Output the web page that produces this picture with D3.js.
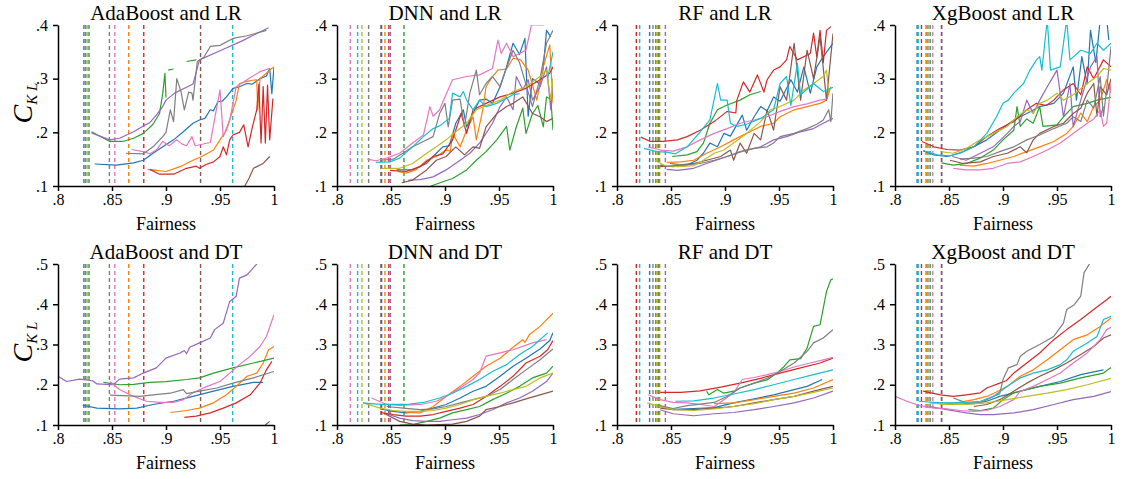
<!DOCTYPE html>
<html>
<head>
<meta charset="utf-8">
<script src="https://d3js.org/d3.v7.min.js"></script>
<style>
  body { margin: 0; background: #fff; }
  svg text { font-family: "Liberation Serif", "Times New Roman", Times, "Nimbus Roman", "DejaVu Serif", serif; }
</style>
</head>
<body>
<script>
// series order follows the colour cycle: blue, orange, green, red, purple, brown, pink, gray, olive, cyan
const xTicks = [0.8, 0.85, 0.9, 0.95, 1];
const yTicksLR = [0.1, 0.2, 0.3, 0.4];
const yTicksDT = [0.1, 0.2, 0.3, 0.4, 0.5];
const titles = ["AdaBoost and LR", "DNN and LR", "RF and LR", "XgBoost and LR",
                "AdaBoost and DT", "DNN and DT", "RF and DT", "XgBoost and DT"];

// dashed vertical markers, one per series, per model column
const adaVl = [.824, .8655, .8287, .8794, .8257, .932, .8526, .8476, .827, .9617];
const dnnVl = [.8413, .8444, .862, .848, .8494, .8407, .8123, .8293, .8231, .8191];
const rfVl  = [.8302, .8395, .8385, .8179, .8448, .836, .8375, .8333, .837, .821];
const xgbVl = [.8205, .829, .8325, .8245, .8433, .843, .835, .8305, .8285, .8215];

const adaLR = [
  [[.834,.141],[.854,.139],[.87,.143],[.879,.148],[.888,.161],[.897,.173],[.907,.186],[.916,.201],[.925,.217],[.931,.223],[.936,.226],[.941,.242],[.944,.24],[.948,.257],[.952,.258],[.956,.266],[.962,.282],[.968,.285],[.975,.291],[.98,.29],[.987,.3],[.993,.305],[.996,.319],[.998,.272],[1,.322]],
  [[.883,.131],[.891,.129],[.9,.127],[.913,.136],[.925,.148],[.934,.156],[.944,.167],[.95,.186],[.956,.204],[.962,.242],[.965,.26],[.968,.291],[.975,.295],[.98,.297],[.984,.298],[.985,.242],[.987,.3],[.993,.31],[.996,.316],[1,.322]],
  [[.831,.201],[.848,.183],[.86,.183],[.87,.189],[.879,.198],[.888,.215],[.894,.235],[.897,.273],[.899,.31],[.9,.265],null,[.902,.316],[.907,.318],null,[.919,.332],[.928,.335]],
  [[.885,.131],[.894,.122],[.907,.122],[.919,.133],[.928,.137],[.931,.133],[.937,.14],[.944,.145],[.95,.155],[.953,.173],[.956,.158],[.959,.186],[.962,.195],[.968,.2],[.972,.214],[.976,.173],[.98,.21],[.984,.242],[.986,.29],[.988,.18],[.99,.285],[.992,.18],[.994,.288],[.996,.186],[.999,.263]],
  [[.831,.199],[.848,.186],[.857,.189],[.87,.201],[.879,.212],[.885,.218],[.891,.232],[.896,.245],[.9,.26],[.908,.273],[.919,.284],[.925,.29],[.931,.335],[.95,.352],[.97,.37],[.995,.395]],
  [[.973,.1],[.977,.115],[.981,.133],[.99,.142],[.996,.155]],
  [[.868,.168],[.879,.164],[.885,.16],[.891,.167],[.897,.183],[.903,.175],[.91,.186],[.915,.178],[.919,.175],[.924,.192],[.927,.175],[.941,.181],[.95,.279],[.953,.192],[.959,.223],[.965,.285],[.975,.298],[.987,.313],[.996,.319]],
  [[.863,.161],[.879,.16],[.888,.173],[.897,.192],[.9,.2],[.904,.242],[.907,.22],[.91,.30],[.914,.275],[.917,.242],[.921,.275],[.924,.273],[.925,.26],[.929,.332],[.935,.34],[.941,.36],[.95,.362],[.962,.375],[.975,.38],[.993,.39]],
  [],
  []
];

const dnnLR = [
  [[.855,.13],[.87,.13],[.883,.142],[.892,.161],[.898,.173],[.904,.175],[.91,.217],[.917,.242],[.92,.21],[.926,.235],[.932,.26],[.938,.262],[.944,.254],[.951,.285],[.957,.322],[.963,.366],[.969,.345],[.974,.375],[.977,.23],[.981,.3],[.988,.29],[.991,.32],[.994,.39],[.998,.378]],
  [[.856,.127],[.864,.124],[.873,.13],[.883,.148],[.892,.155],[.901,.167],[.905,.165],[.907,.198],[.914,.173],[.92,.204],[.926,.229],[.929,.186],[.935,.242],[.938,.285],[.944,.304],[.949,.316],[.957,.318],[.963,.338],[.97,.335],[.977,.316],[.985,.26],[.991,.322],[.997,.363],[1,.254]],
  [[.887,.1],[.898,.108],[.907,.114],[.92,.13],[.929,.148],[.938,.164],[.948,.186],[.957,.211],[.96,.167],[.966,.21],[.972,.245],[.975,.198],[.981,.235],[.986,.25],[.991,.21],[.994,.266],[.998,.262],[1,.204]],
  [[.849,.129],[.864,.127],[.877,.136],[.889,.155],[.898,.16],[.907,.186],[.915,.235],[.92,.198],[.926,.242],[.938,.254],[.951,.266],[.963,.273],[.975,.282],[.988,.298],[.997,.31],[1,.322]],
  [[.866,.111],[.877,.112],[.889,.117],[.901,.13],[.914,.148],[.923,.161],[.932,.18],[.938,.198],[.944,.217],[.951,.248],[.957,.266],[.963,.242],[.966,.304],[.972,.28],[.977,.298],[.981,.26],[.988,.285],[.994,.322],[.998,.242],[1,.3]],
  [[.86,.106],[.87,.111],[.883,.13],[.892,.148],[.901,.155],[.91,.173],[.918,.158],[.926,.173],[.932,.17],[.938,.21],[.948,.235],[.957,.248],[.963,.254],[.972,.266],[.981,.235],[.988,.229],[.994,.22],[1,.226]],
  [[.828,.15],[.836,.147],[.846,.152],[.858,.161],[.87,.18],[.88,.195],[.886,.248],[.889,.23],[.895,.242],[.9,.266],[.907,.298],[.92,.304],[.932,.307],[.944,.319],[.949,.372],[.952,.347],[.957,.366],[.963,.341],[.975,.353],[.98,.4],[.991,.4],[1,.41]],
  [[.841,.148],[.852,.15],[.861,.161],[.87,.173],[.88,.183],[.889,.192],[.895,.235],[.9,.254],[.903,.21],[.907,.26],[.914,.262],[.918,.21],[.923,.273],[.929,.316],[.932,.27],[.938,.291],[.944,.304],[.951,.285],[.957,.32],[.963,.353],[.969,.33],[.981,.248],[.988,.3],[.994,.366],[1,.39]],
  [[.841,.133],[.858,.133],[.87,.142],[.883,.161],[.892,.173],[.901,.186],[.91,.201],[.92,.217],[.929,.242],[.938,.25],[.951,.26],[.963,.276],[.975,.285],[.988,.304],[.994,.316],[.998,.26],[1,.3]],
  [[.836,.144],[.849,.145],[.858,.152],[.87,.173],[.88,.192],[.889,.207],[.895,.212],[.904,.226],[.907,.273],[.914,.266],[.917,.276],[.92,.26],[.926,.242],[.932,.26],[.938,.248],[.948,.254],[.963,.27],[.969,.272],null,[.995,.3],[1,.35]]
];

const rfLR = [
  [[.84,.139],[.852,.136],[.865,.139],[.874,.148],[.88,.161],[.886,.18],[.893,.173],[.899,.198],[.905,.193],[.916,.232],[.92,.204],[.927,.229],[.933,.248],[.939,.24],[.945,.266],[.951,.258],[.961,.298],[.967,.275],[.973,.322],[.979,.273],[.985,.322],[.991,.341],[1,.366]],
  [[.846,.144],[.859,.145],[.871,.148],[.883,.161],[.896,.173],[.908,.186],[.92,.198],[.933,.211],[.945,.217],[.951,.229],[.964,.242],[.976,.248],[.988,.254],[.994,.26],[.998,.285]],
  [[.851,.155],[.865,.158],[.874,.164],[.88,.18],[.886,.217],[.893,.242],[.902,.251],[.914,.26],[.923,.27],[.933,.276]],
  [[.822,.191],[.831,.183],[.843,.183],[.856,.186],[.865,.192],[.877,.204],[.89,.22],[.902,.239],[.91,.236],[.911,.26],[.917,.294],[.923,.275],[.93,.307],[.936,.275],[.939,.298],[.945,.316],[.951,.322],[.957,.335],[.96,.36],[.967,.335],[.979,.347],[.982,.385],[.985,.34],[.988,.39],[.991,.33],[.994,.39],[.998,.397]],
  [[.846,.131],[.856,.129],[.871,.133],[.883,.142],[.902,.155],[.92,.167],[.933,.173],[.945,.186],[.957,.192],[.97,.201],[.982,.207],[.991,.217],[1,.226]],
  [[.84,.136],[.856,.139],[.871,.142],[.883,.148],[.896,.155],[.905,.167],[.908,.148],[.914,.18],[.92,.161],[.927,.198],[.933,.186],[.939,.242],[.945,.204],[.951,.285],[.957,.26],[.964,.366],[.97,.26],[.976,.353],[.982,.3],[.988,.378],[.994,.26],[1,.384]],
  [[.829,.173],[.84,.167],[.852,.165],[.865,.173],[.877,.186],[.89,.198],[.902,.207],[.914,.217],[.927,.223],[.939,.229],[.951,.239],[.964,.248],[.976,.253],[.988,.26],[.994,.262]],
  [[.849,.142],[.862,.139],[.877,.142],[.89,.148],[.902,.155],[.914,.164],[.927,.17],[.939,.173],[.945,.18],[.951,.192],[.964,.198],[.976,.207],[.985,.215],[.991,.223],[.996,.242],[.998,.22],[1,.273]],
  [[.835,.148],[.843,.139],[.856,.136],[.871,.138],[.88,.148],[.89,.161],[.899,.167],[.908,.18],[.92,.198],[.933,.22],[.942,.242],[.951,.248],[.964,.26],[.973,.279],[.982,.291],[.991,.304],[.994,.316],[.996,.273]],
  [[.825,.17],[.837,.164],[.846,.163],[.854,.16],[.865,.173],[.877,.201],[.886,.223],[.893,.291],[.896,.26],[.902,.26],[.905,.217],[.911,.211],[.92,.215],[.933,.226],[.945,.242],[.951,.291],[.957,.304],[.961,.25],[.967,.329],[.97,.27],[.982,.291],[.991,.276],[1,.284]]
];

const xgbLR = [
  [[.826,.166],[.836,.158],[.848,.155],[.86,.161],[.873,.173],[.885,.186],[.897,.204],[.91,.223],[.922,.235],[.934,.248],[.947,.254],[.956,.273],[.965,.322],[.968,.26],[.973,.341],[.978,.29],[.981,.39],[.986,.33],[.99,.41],[.996,.41],[.998,.372]],
  [[.86,.139],[.873,.137],[.885,.142],[.897,.148],[.91,.155],[.922,.164],[.934,.173],[.947,.183],[.959,.198],[.965,.211],[.972,.236],[.978,.22],[.984,.248],[.99,.26],[.996,.298],[1,.273]],
  [[.843,.143],[.854,.139],[.866,.142],[.879,.152],[.891,.167],[.9,.186],[.91,.204],[.913,.248],[.916,.211],[.922,.225],[.928,.217],[.934,.248],[.937,.211],[.95,.214],[.956,.229],[.965,.248],[.978,.254],[.987,.26],[1,.265]],
  [[.825,.183],[.836,.173],[.848,.168],[.86,.167],[.873,.173],[.885,.192],[.897,.207],[.91,.22],[.922,.242],[.931,.254],[.94,.25],[.947,.26],[.956,.279],[.965,.291],[.972,.27],[.978,.322],[.984,.3],[.993,.335],[1,.322]],
  [[.853,.155],[.866,.148],[.879,.161],[.891,.173],[.904,.198],[.91,.211],[.916,.22],[.922,.26],[.928,.235],[.934,.26],[.941,.285],[.95,.316],[.956,.229],[.962,.291],[.965,.211],[.972,.26],[.981,.322],[.987,.341],[.99,.229],[.993,.248]],
  [[.851,.148],[.863,.142],[.879,.145],[.891,.155],[.904,.161],[.916,.173],[.922,.162],[.928,.186],[.934,.198],[.947,.211],[.956,.217],[.965,.235],[.972,.245],[.978,.273],[.984,.291],[.987,.23],[.99,.285],[.996,.27],[1,.3]],
  [[.854,.133],[.866,.13],[.879,.13],[.891,.133],[.904,.142],[.916,.145],[.928,.155],[.941,.167],[.953,.18],[.965,.198],[.978,.217],[.984,.225],[.99,.242],[.993,.211],[.996,.217],[1,.292]],
  [[.86,.15],[.873,.152],[.885,.155],[.897,.164],[.91,.173],[.922,.186],[.934,.195],[.947,.207],[.959,.217],[.965,.229],[.972,.22],[.978,.26],[.984,.245],[.99,.304],[.993,.23],[.996,.28],[1,.36]],
  [[.842,.164],[.854,.161],[.866,.17],[.879,.186],[.891,.198],[.904,.211],[.913,.229],[.922,.242],[.928,.236],[.934,.254],[.941,.26],[.95,.273],[.956,.26],[.965,.27],[.978,.291],[.987,.304],[.993,.319],[1,.316]],
  [[.826,.166],[.839,.158],[.851,.156],[.863,.164],[.873,.173],[.885,.198],[.894,.229],[.9,.254],[.905,.26],[.91,.273],[.919,.291],[.925,.316],[.931,.335],[.934,.341],[.936,.316],[.941,.41],[.944,.316],[.953,.322],[.959,.41],[.962,.335],[.972,.353],[.981,.347],[.987,.366],[.993,.353],[1,.366]]
];

const adaDT = [
  [[.823,.149],[.836,.142],[.857,.14],[.873,.142],[.888,.151],[.907,.159],[.925,.171],[.944,.184],[.962,.196],[.981,.206],[.99,.206]],
  [[.904,.131],[.919,.136],[.931,.142],[.944,.155],[.956,.175],[.965,.196],[.975,.221],[.984,.229],[.99,.254],[.995,.287],[1,.295]],
  [[.842,.206],[.857,.2],[.87,.201],[.885,.206],[.9,.208],[.919,.213],[.931,.217],[.944,.229],[.962,.242],[.981,.254],[1,.266]],
  [[.917,.119],[.928,.122],[.941,.13],[.953,.142],[.965,.155],[.978,.175],[.987,.204],[.993,.237],[.998,.258]],
  [[.8,.221],[.808,.208],[.82,.214],[.832,.21],[.836,.202],[.851,.2],[.857,.214],[.87,.217],[.879,.229],[.891,.242],[.9,.266],[.913,.279],[.917,.285],[.919,.277],[.922,.293],[.931,.304],[.941,.316],[.945,.337],[.953,.353],[.959,.407],[.965,.42],[.968,.465],[.975,.473],[.984,.5],[.99,.52]],
  [[.992,.1],[.996,.109]],
  [[.848,.208],[.857,.188],[.87,.171],[.882,.159],[.894,.156],[.907,.156],[.916,.163],[.925,.18],[.938,.196],[.95,.208],[.959,.229],[.968,.25],[.978,.271],[.987,.295],[.993,.32],[1,.374]],
  [[.848,.174],[.86,.173],[.876,.171],[.888,.175],[.904,.179],[.916,.188],[.919,.178],[.931,.184],[.947,.192],[.962,.204],[.981,.217],[1,.233]],
  [],
  []
];

const dnnDT = [
  [[.84,.14],[.852,.134],[.864,.13],[.877,.134],[.889,.142],[.901,.151],[.914,.167],[.926,.184],[.938,.196],[.951,.221],[.963,.246],[.975,.266],[.988,.289],[.997,.31],[1,.329]],
  [[.864,.131],[.877,.13],[.889,.146],[.901,.171],[.914,.196],[.926,.221],[.938,.246],[.951,.266],[.963,.293],[.972,.312],[.974,.305],[.978,.324],[.988,.345],[1,.378]],
  [[.858,.1],[.87,.101],[.883,.109],[.895,.117],[.907,.13],[.92,.138],[.932,.146],[.944,.163],[.957,.179],[.969,.196],[.981,.217],[.994,.229],[1,.246]],
  [[.841,.131],[.852,.126],[.864,.122],[.877,.122],[.889,.126],[.901,.134],[.914,.142],[.926,.151],[.938,.171],[.951,.196],[.963,.221],[.975,.254],[.988,.271],[.995,.287],[1,.31]],
  [[.846,.128],[.858,.117],[.87,.111],[.883,.109],[.895,.109],[.907,.113],[.92,.117],[.932,.126],[.944,.138],[.957,.155],[.969,.167],[.981,.184],[.994,.208],[1,.229]],
  [[.843,.13],[.858,.109],[.87,.102],[.883,.1],[.895,.101],[.907,.102],[.92,.109],[.932,.122],[.938,.138],[.951,.146],[.963,.155],[.975,.165],[.988,.175],[1,.184]],
  [[.832,.167],[.846,.151],[.858,.149],[.877,.151],[.892,.159],[.901,.171],[.914,.192],[.926,.213],[.932,.229],[.938,.271],[.951,.279],[.963,.287],[.981,.304],[.994,.312]],
  [[.846,.146],[.861,.142],[.877,.138],[.889,.14],[.901,.146],[.914,.155],[.926,.163],[.938,.171],[.951,.188],[.963,.213],[.975,.237],[.988,.262],[1,.289]],
  [[.824,.155],[.84,.142],[.852,.136],[.864,.134],[.877,.134],[.889,.136],[.901,.142],[.914,.151],[.926,.163],[.938,.171],[.951,.179],[.963,.188],[.975,.196],[.988,.217],[1,.229]],
  [[.824,.155],[.84,.151],[.852,.151],[.864,.151],[.88,.156],[.895,.167],[.907,.179],[.92,.196],[.932,.213],[.944,.233],[.957,.25],[.969,.275],[.981,.295],[.995,.329]]
];

const rfDT = [
  [[.837,.148],[.852,.139],[.871,.141],[.89,.143],[.908,.155],[.927,.165],[.945,.175],[.964,.188],[.976,.196],[.99,.213]],
  [[.89,.153],[.908,.155],[.927,.163],[.945,.171],[.964,.179],[.982,.192],[1,.213]],
  [[.883,.184],[.885,.175],[.893,.188],[.899,.179],[.908,.184],[.914,.192],[.927,.204],[.939,.212],[.948,.229],[.955,.246],[.96,.262],[.97,.265],[.976,.291],[.982,.345],[.988,.349],[.994,.432],[.998,.461],[1,.463]],
  [[.84,.181],[.859,.181],[.877,.185],[.896,.194],[.914,.204],[.933,.216],[.951,.229],[.97,.242],[.988,.254],[1,.266]],
  [[.84,.138],[.852,.128],[.871,.123],[.89,.128],[.908,.131],[.927,.138],[.945,.146],[.964,.155],[.982,.167],[1,.184]],
  [[.84,.142],[.852,.138],[.871,.138],[.89,.142],[.908,.146],[.927,.155],[.945,.163],[.964,.171],[.982,.184],[1,.196]],
  [[.829,.175],[.84,.163],[.852,.156],[.865,.155],[.877,.151],[.89,.146],[.899,.163],[.908,.18],[.916,.213],[.927,.218],[.939,.225],[.951,.233],[.964,.244],[.979,.254],[.991,.262],[1,.268]],
  [[.84,.148],[.852,.141],[.865,.148],[.877,.152],[.89,.156],[.902,.171],[.914,.192],[.927,.204],[.939,.216],[.951,.233],[.964,.254],[.976,.283],[.982,.304],[.991,.316],[1,.337]],
  [[.828,.155],[.84,.146],[.852,.138],[.871,.136],[.89,.14],[.908,.146],[.927,.153],[.945,.163],[.964,.171],[.982,.181],[1,.192]],
  [[.854,.159],[.871,.16],[.89,.167],[.908,.177],[.927,.188],[.945,.2],[.964,.213],[.982,.225],[1,.237]]
];

const xgbDT = [
  [[.854,.151],[.873,.153],[.885,.159],[.897,.171],[.916,.184],[.934,.196],[.953,.208],[.972,.225],[.993,.237]],
  [[.842,.151],[.857,.155],[.873,.163],[.885,.171],[.894,.182],[.904,.196],[.916,.221],[.928,.237],[.941,.262],[.953,.287],[.965,.312],[.978,.324],[.99,.345],[1,.366]],
  [[.868,.138],[.879,.136],[.891,.142],[.9,.163],[.91,.18],[.922,.188],[.934,.196],[.953,.204],[.972,.217],[.993,.229],[1,.243]],
  [[.826,.184],[.842,.175],[.854,.171],[.866,.175],[.879,.18],[.885,.192],[.897,.204],[.903,.21],[.91,.229],[.922,.254],[.934,.279],[.947,.312],[.959,.337],[.972,.362],[.984,.387],[.996,.411],[1,.42]],
  [[.832,.146],[.848,.138],[.866,.13],[.879,.126],[.891,.126],[.91,.13],[.928,.138],[.947,.151],[.965,.163],[.984,.171],[1,.183]],
  [[.873,.146],[.885,.151],[.897,.163],[.91,.184],[.922,.204],[.934,.221],[.947,.237],[.959,.254],[.972,.275],[.984,.295],[.993,.316],[1,.324]],
  [[.8,.171],[.811,.159],[.823,.148],[.836,.142],[.848,.14],[.86,.136],[.873,.134],[.885,.136],[.897,.146],[.91,.163],[.916,.184],[.928,.196],[.941,.213],[.953,.229],[.965,.254],[.978,.279],[.99,.312],[.996,.337],[1,.343]],
  [[.854,.167],[.866,.155],[.879,.155],[.891,.171],[.897,.178],[.9,.213],[.905,.242],[.913,.25],[.916,.271],[.922,.283],[.934,.3],[.947,.32],[.956,.353],[.959,.387],[.966,.399],[.972,.42],[.975,.478],[.98,.5],[.985,.52]],
  [[.832,.155],[.848,.151],[.866,.151],[.885,.155],[.904,.163],[.922,.171],[.941,.179],[.959,.188],[.978,.2],[1,.216]],
  [[.822,.159],[.836,.156],[.851,.155],[.866,.156],[.879,.159],[.891,.171],[.904,.196],[.916,.217],[.928,.229],[.941,.237],[.953,.25],[.959,.262],[.965,.283],[.978,.304],[.987,.32],[.993,.362],[1,.37]]
];

const lineData = [adaLR, dnnLR, rfLR, xgbLR, adaDT, dnnDT, rfDT, xgbDT];
const vlineData = [adaVl, dnnVl, rfVl, xgbVl];

const W = 1122, H = 479;
const lefts = [58, 337, 617, 895];
const pw = 216;
const tops = [25, 264];
const ph = 161;
const serif = '"Liberation Serif", "Times New Roman", Times, "Nimbus Roman", "DejaVu Serif", serif';

const color = d3.scaleOrdinal().domain(d3.range(10)).range(d3.schemeCategory10);
const fmt = d => d === 1 ? "1" : d3.format(".2~f")(d).replace(/^0/, "");

const svg = d3.select("body").append("svg")
  .attr("width", W)
  .attr("height", H)
  .attr("font-family", serif);

lineData.forEach((series, p) => {
  const col = p % 4, row = Math.floor(p / 4);
  const x0 = lefts[col], y0 = tops[row];
  const yTicks = row === 0 ? yTicksLR : yTicksDT;

  const x = d3.scaleLinear().domain([0.8, 1]).range([x0, x0 + pw]);
  const y = d3.scaleLinear().domain([0.1, d3.max(yTicks)]).range([y0 + ph, y0]);

  const g = svg.append("g");

  g.append("clipPath").attr("id", "clip" + p)
    .append("rect")
    .attr("x", x0).attr("y", y0)
    .attr("width", pw).attr("height", ph);

  const plot = g.append("g").attr("clip-path", `url(#clip${p})`);

  // dashed markers
  plot.selectAll("line.vl")
    .data(vlineData[col].map((v, i) => ({ v, i })).filter(d => d.v != null))
    .join("line")
    .attr("class", "vl")
    .attr("x1", d => x(d.v)).attr("x2", d => x(d.v))
    .attr("y1", y0).attr("y2", y0 + ph)
    .attr("stroke", d => color(d.i))
    .attr("stroke-width", 1.4)
    .attr("stroke-dasharray", "4,3");

  const line = d3.line()
    .defined(d => d != null)
    .x(d => x(d[0]))
    .y(d => y(d[1]));

  plot.selectAll("path.s")
    .data(series.map((pts, i) => ({ pts, i })).filter(d => d.pts.length))
    .join("path")
    .attr("class", "s")
    .attr("d", d => line(d.pts))
    .attr("fill", "none")
    .attr("stroke", d => color(d.i))
    .attr("stroke-width", 1.2)
    .attr("stroke-linejoin", "round");

  const xAxis = g.append("g")
    .attr("transform", `translate(0,${y0 + ph})`)
    .call(d3.axisBottom(x).tickValues(xTicks).tickFormat(fmt).tickSize(5).tickSizeOuter(0).tickPadding(3));
  const yAxis = g.append("g")
    .attr("transform", `translate(${x0},0)`)
    .call(d3.axisLeft(y).tickValues(yTicks).tickFormat(fmt).tickSize(5).tickSizeOuter(0).tickPadding(5));

  [xAxis, yAxis].forEach(a => {
    a.attr("font-family", serif);
    a.selectAll("path, line").attr("stroke", "#000").attr("stroke-width", 1.5);
    a.selectAll("text")
      .attr("font-size", 16)
      .attr("fill", "#000");
  });

  g.append("text")
    .attr("x", x0 + pw / 2)
    .attr("y", y0 - 5)
    .attr("text-anchor", "middle")
    .attr("font-size", 21)
    .text(titles[p]);

  g.append("text")
    .attr("x", x0 + pw / 2)
    .attr("y", y0 + ph + 44)
    .attr("text-anchor", "middle")
    .attr("font-size", 18)
    .text("Fairness");

  if (col === 0) {
    const lab = g.append("text")
      .attr("transform", `translate(32,${y0 + 78}) rotate(-90)`)
      .attr("text-anchor", "middle");
    lab.append("tspan")
      .attr("font-style", "italic")
      .attr("font-size", 28)
      .text("C");
    lab.append("tspan")
      .attr("font-style", "italic")
      .attr("font-size", 15)
      .attr("dy", 5)
      .text("K L");
  }
});
</script>
</body>
</html>
